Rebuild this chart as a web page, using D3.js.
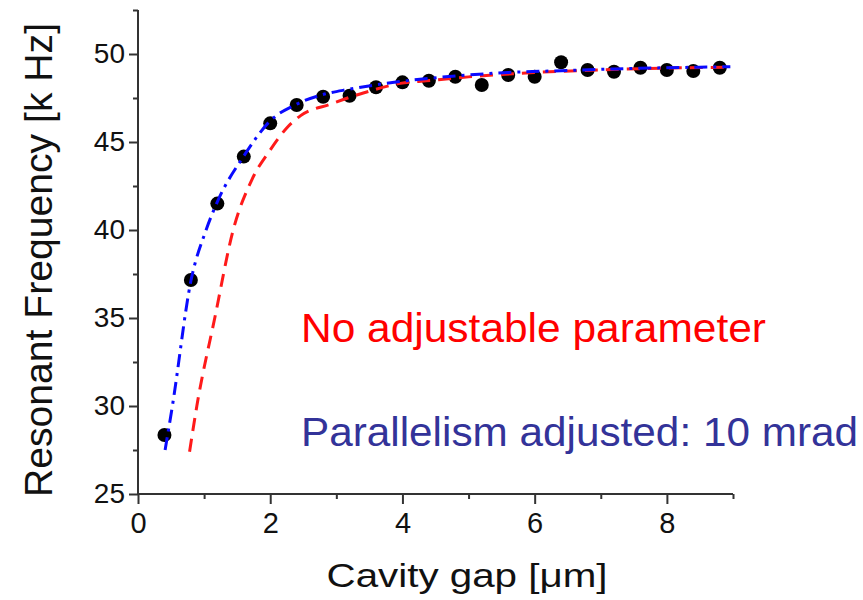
<!DOCTYPE html>
<html>
<head>
<meta charset="utf-8">
<script src="https://cdn.jsdelivr.net/npm/d3@7"></script>
<style>
  html, body { margin: 0; padding: 0; background: #fff; }
  svg { display: block; font-family: "Liberation Sans", Arial, Helvetica, sans-serif; }
</style>
</head>
<body>
<svg id="chart" width="863" height="600"></svg>
<script>
// Measured resonant frequency vs. cavity gap
const gapUm = [0.4, 0.8, 1.2, 1.6, 2.0, 2.4, 2.8, 3.2, 3.6, 4.0, 4.4,
               4.8, 5.2, 5.6, 6.0, 6.4, 6.8, 7.2, 7.6, 8.0, 8.4, 8.8];
const freqKHz = [28.35, 37.16, 41.5, 44.17, 46.06, 47.10, 47.57, 47.63, 48.11, 48.39, 48.48,
                 48.71, 48.24, 48.81, 48.71, 49.53, 49.09, 48.99, 49.22, 49.09, 49.03, 49.22];

// Model without adjustable parameter (red dashed)
const modelGap = [0.78, 0.89, 1.165, 1.44, 1.72, 2.0, 2.25, 2.46, 2.91, 3.42, 3.97, 4.43, 5.0, 6.0, 7.0, 8.0, 8.96];
const modelFreq = [27.4, 30.0, 35.07, 40.0, 42.84, 44.55, 45.8, 46.5, 47.15, 47.8, 48.33, 48.5, 48.7, 48.95, 49.1, 49.2, 49.25];

// Model with parallelism adjusted to 10 mrad (blue dash-dot)
const fitGap = [0.41, 0.52, 0.8, 1.03, 1.2, 1.6, 2.0, 2.4, 2.8, 3.2, 3.6, 4.0, 4.8, 5.6, 6.4, 7.2, 8.0, 8.96];
const fitFreq = [27.5, 30.0, 37.1, 40.0, 41.6, 44.2, 46.2, 47.15, 47.7, 48.0, 48.25, 48.45, 48.75, 48.95, 49.05, 49.15, 49.22, 49.28];

const xMajor = [0, 2, 4, 6, 8];
const xMinor = [1, 3, 5, 7, 9];
const yMajor = [25, 30, 35, 40, 45, 50];
const yMinor = [27.5, 32.5, 37.5, 42.5, 47.5, 52.5];

const svg = d3.select("#chart");
const x = d3.scaleLinear().domain([0, 9]).range([138, 733]);
const y = d3.scaleLinear().domain([25, 52.5]).range([494, 10]);
const axisColor = "#333";

// y axis
const gy = svg.append("g").attr("transform", `translate(${x(0)},0)`);
gy.call(d3.axisLeft(y).tickValues(yMajor).tickSize(9).tickPadding(4).tickFormat(d3.format("d")));
gy.append("g").call(d3.axisLeft(y).tickValues(yMinor).tickSize(5).tickFormat(""))
  .select(".domain").remove();
gy.select(".domain").attr("d", `M0,${y(52.5)}V${y(25)}`);

// x axis
const gx = svg.append("g").attr("transform", `translate(0,${y(25)})`);
gx.call(d3.axisBottom(x).tickValues(xMajor).tickSize(10).tickPadding(8).tickFormat(d3.format("d")));
gx.append("g").call(d3.axisBottom(x).tickValues(xMinor).tickSize(5).tickFormat(""))
  .select(".domain").remove();
gx.select(".domain").attr("d", `M${x(0)},0H${x(9)}`);

svg.selectAll(".domain, .tick line").attr("stroke", axisColor).attr("stroke-width", 2);
gy.selectAll(".tick text").attr("font-size", 28).attr("fill", "#111");
gx.selectAll(".tick text").attr("font-size", 29).attr("fill", "#111");

// axis titles
svg.append("text")
  .attr("transform", `translate(52,${(22 + 498) / 2}) rotate(-90)`)
  .attr("text-anchor", "middle")
  .attr("font-size", 38)
  .attr("textLength", 474).attr("lengthAdjust", "spacingAndGlyphs")
  .attr("fill", "#111")
  .text("Resonant Frequency [k Hz]");

svg.append("text")
  .attr("x", 467).attr("y", 587)
  .attr("text-anchor", "middle")
  .attr("font-size", 34)
  .attr("textLength", 281).attr("lengthAdjust", "spacingAndGlyphs")
  .attr("fill", "#111")
  .text("Cavity gap [μm]");

// data points
svg.append("g").selectAll("circle")
  .data(d3.range(gapUm.length))
  .join("circle")
  .attr("cx", i => x(gapUm[i]))
  .attr("cy", i => y(freqKHz[i]))
  .attr("r", 7)
  .attr("fill", "#000");

const line = (xs, ys) => d3.line()
  .x(i => x(xs[i])).y(i => y(ys[i]))
  .curve(d3.curveMonotoneX)(d3.range(xs.length));

svg.append("path")
  .attr("d", line(modelGap, modelFreq))
  .attr("fill", "none").attr("stroke", "#ff1a1a")
  .attr("stroke-width", 3).attr("stroke-dasharray", "13 8");

svg.append("path")
  .attr("d", line(fitGap, fitFreq))
  .attr("fill", "none").attr("stroke", "#0a0aff")
  .attr("stroke-width", 3).attr("stroke-dasharray", "13 6 3 6");

// annotations
svg.append("text")
  .attr("x", 301).attr("y", 342)
  .attr("font-size", 40)
  .attr("textLength", 465).attr("lengthAdjust", "spacingAndGlyphs")
  .attr("fill", "#ff0000")
  .text("No adjustable parameter");

svg.append("text")
  .attr("x", 301).attr("y", 446)
  .attr("font-size", 40)
  .attr("textLength", 557).attr("lengthAdjust", "spacingAndGlyphs")
  .attr("fill", "#333399")
  .text("Parallelism adjusted: 10 mrad");
</script>
</body>
</html>
